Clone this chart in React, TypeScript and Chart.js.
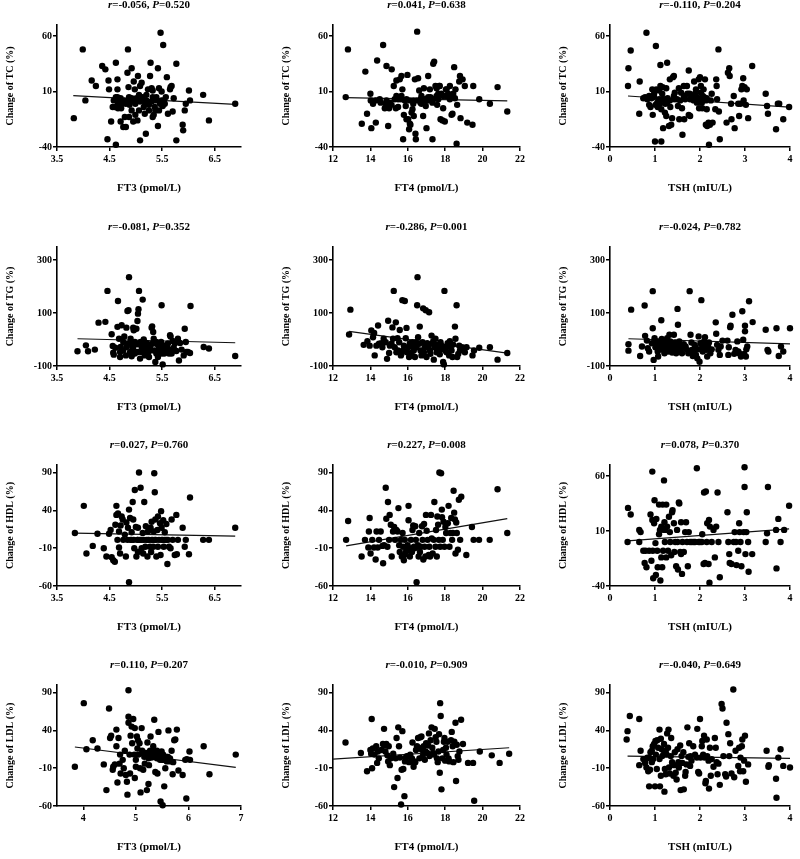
import { useEffect, useRef } from 'react';
import { Chart, registerables } from 'chart.js';
Chart.register(...registerables);

const FONT = "'Liberation Serif', 'Times New Roman', serif";

// ---------- Data (x = thyroid measure, y = % change) ----------
const tcFt3: number[][] = [[3.82,-14],[3.99,48],[4.04,2],[4.16,20],[4.24,15],[4.36,33],[4.42,30],[4.48,20],[4.49,12],[4.46,-33],[4.53,-17],[4.56,-4],[4.62,36],[4.62,-38],[4.65,21],[4.65,12],[4.66,-1],[4.71,-17],[4.76,-22],[4.81,-22],[4.79,-13],[4.84,27],[4.85,48],[4.86,14],[4.87,5],[4.92,31],[4.92,-7],[4.95,-17],[4.96,19],[4.98,12],[5.01,4],[5.03,-16],[5.04,24],[5.06,7],[5.08,-34],[5.08,15],[5.11,18],[5.13,2],[5.15,-4],[5.17,-10],[5.19,-28],[5.2,7],[5.23,12],[5.25,-2],[5.27,24],[5.28,36],[5.3,13],[5.32,5],[5.34,-11],[5.36,-4],[5.39,2],[5.42,-21],[5.42,31],[5.44,13],[5.46,-1],[5.47,63],[5.49,10],[5.52,52],[5.53,2],[5.57,5],[5.59,23],[5.61,-10],[5.65,12],[5.66,14],[5.68,15],[5.7,-8],[5.72,4],[5.77,35],[5.77,-34],[5.89,-20],[5.9,-25],[5.93,-7],[5.95,-1],[6.01,11],[6.03,2],[6.28,7],[6.39,-16],[6.89,-1],[4.65,5],[4.68,2],[4.71,4],[4.73,-1],[4.78,2],[4.81,-1],[4.87,2],[4.88,-2],[4.92,4],[4.95,1],[4.99,-1],[5.04,2],[5.08,1],[5.13,5],[5.18,-1],[5.2,2],[5.3,1],[5.32,11],[5.37,-7],[5.39,5],[5.44,-7],[5.49,2],[5.51,-3],[5.55,-1],[4.66,-5],[4.6,-4],[4.58,2],[4.72,-5],[4.87,-13],[5.06,-7],[5.25,-7],[5.32,-13],[4.99,-11],[4.62,5]];
const tcFt4: number[][] = [[12.68,5],[12.8,48],[13.54,-19],[13.73,28],[13.82,-10],[14,8],[14.05,-23],[14.02,2],[14.14,-1],[14.29,-18],[14.36,38],[14.29,2],[14.68,52],[14.86,33],[14.82,-1],[14.89,-3],[14.95,-21],[15,-5],[15.14,30],[15.25,15],[15.3,3],[15.36,-5],[15.39,20],[15.48,-4],[15.57,21],[15.63,3],[15.66,24],[15.71,12],[15.75,-33],[15.79,-11],[15.84,2],[15.89,-3],[15.93,-15],[15.98,25],[16.02,-15],[16.07,-24],[16.11,-19],[16.14,-20],[16.2,-9],[16.25,-6],[16.29,2],[16.32,-12],[16.38,21],[16.41,-28],[16.46,2],[16.43,-33],[16.5,64],[16.55,22],[16.61,11],[16.68,3],[16.73,-1],[16.82,-12],[16.86,13],[16.91,3],[16.96,-3],[17,-23],[17.09,24],[17.14,2],[17.18,12],[17.21,5],[17.32,-33],[17.36,35],[17.41,37],[17.48,15],[17.54,13],[17.57,-2],[17.63,8],[17.68,15],[17.71,15],[17.75,-15],[17.8,8],[17.86,-16],[17.89,-5],[17.98,-17],[18.04,12],[18.07,6],[18.16,8],[18.25,3],[18.34,-11],[18.39,-10],[18.48,32],[18.52,4],[18.55,12],[18.61,-37],[18.64,-2],[18.75,19],[18.79,24],[18.82,-14],[18.93,21],[19.05,15],[19.18,-18],[19.46,-20],[19.5,15],[19.82,3],[20.39,-1],[20.8,14],[21.32,-8],[14.86,2],[15.04,0],[15.13,-2],[15.48,3],[15.66,6],[15.93,3],[16.11,2],[16.68,0],[17,2],[17.36,3],[17.63,3],[17.89,6],[18.07,12],[18.25,6],[18.43,8],[15.39,6],[14.5,3],[14.55,0],[14.77,-5],[16.29,-1],[16.73,6],[17.09,5],[17.32,0],[18.25,15],[17.54,6]];
const tcTsh: number[][] = [[0.4,15],[0.41,31],[0.46,47],[0.66,19],[0.65,-10],[0.74,4],[0.78,5],[0.81,63],[0.83,3],[0.87,-2],[0.9,-4],[0.92,4],[0.94,12],[0.95,-11],[0.98,8],[1,-35],[1.01,-2],[1.02,51],[1.03,12],[1.05,0],[1.06,-4],[1.09,3],[1.09,11],[1.11,-1],[1.12,34],[1.12,15],[1.14,-6],[1.14,-35],[1.16,8],[1.17,14],[1.18,-23],[1.2,3],[1.22,-9],[1.23,-1],[1.25,13],[1.25,-12],[1.27,36],[1.28,4],[1.31,-21],[1.33,21],[1.33,2],[1.34,-4],[1.36,-20],[1.38,-14],[1.4,23],[1.42,24],[1.43,3],[1.44,9],[1.49,3],[1.51,-3],[1.53,13],[1.54,-15],[1.56,2],[1.58,9],[1.6,-5],[1.61,-29],[1.64,15],[1.65,-15],[1.67,3],[1.71,15],[1.72,8],[1.75,-11],[1.75,29],[1.77,8],[1.78,-12],[1.82,5],[1.86,2],[1.87,19],[1.89,8],[1.91,12],[1.93,0],[1.95,4],[1.97,21],[1.98,-5],[2,23],[2.02,15],[2.02,9],[2.04,3],[2.05,-5],[2.06,6],[2.08,12],[2.09,5],[2.11,21],[2.13,2],[2.15,4],[2.15,-6],[2.13,-20],[2.16,-21],[2.19,-18],[2.2,-38],[2.22,-20],[2.24,2],[2.26,8],[2.28,-18],[2.34,-6],[2.36,21],[2.37,15],[2.38,3],[2.41,48],[2.42,-8],[2.44,-33],[2.59,-18],[2.62,27],[2.65,31],[2.66,24],[2.69,-1],[2.7,-15],[2.75,6],[2.77,-23],[2.85,-1],[2.87,-12],[2.9,-1],[2.92,12],[2.94,15],[2.96,22],[2.97,2],[2.99,14],[3.02,-2],[3.04,12],[3.07,-14],[3.16,33],[3.46,8],[3.49,-3],[3.51,-10],[3.69,-24],[3.73,-1],[3.76,-1],[3.85,-15],[3.98,-4],[0.87,6],[0.98,5],[1.16,3],[1.27,0],[1.42,6],[1.64,6],[1.78,3],[1.93,5],[2.04,0],[2.11,3]];
const tgFt3: number[][] = [[3.89,-44],[4.05,-22],[4.09,-44],[4.22,-38],[4.29,64],[4.42,67],[4.46,184],[4.54,20],[4.56,-24],[4.57,-50],[4.58,-57],[4.61,-31],[4.65,48],[4.66,146],[4.68,3],[4.7,-66],[4.71,-28],[4.73,54],[4.76,-41],[4.78,12],[4.81,-60],[4.82,45],[4.84,108],[4.86,111],[4.86,-15],[4.87,236],[4.89,-47],[4.9,3],[4.92,-63],[4.93,-28],[4.95,45],[4.96,35],[4.98,-9],[5,-47],[5.01,41],[5.03,-18],[5.03,70],[5.04,98],[5.05,115],[5.06,184],[5.08,-72],[5.09,-9],[5.11,-47],[5.13,151],[5.14,-28],[5.15,0],[5.17,-60],[5.19,-18],[5.2,-13],[5.22,-41],[5.23,-53],[5.25,-66],[5.27,-28],[5.28,-18],[5.3,45],[5.31,50],[5.33,29],[5.34,3],[5.36,-41],[5.37,-85],[5.39,-9],[5.41,-18],[5.42,-66],[5.44,-28],[5.46,-41],[5.47,-34],[5.48,-9],[5.49,130],[5.51,-94],[5.52,-22],[5.54,-53],[5.55,-47],[5.57,-28],[5.58,-38],[5.61,-15],[5.63,-53],[5.65,16],[5.66,12],[5.68,-41],[5.7,-5],[5.72,-31],[5.74,-15],[5.77,-43],[5.8,3],[5.82,-79],[5.84,-13],[5.87,-38],[5.91,-60],[5.93,41],[5.95,-9],[5.96,-47],[5.99,-47],[6.03,-51],[6.04,127],[6.29,-28],[6.39,-34],[6.89,-62],[4.92,-15],[4.94,-41],[4.95,-28],[4.98,-53],[5.11,-28],[5.14,-47],[5.2,-34],[5.3,-41],[5.33,-15],[5.39,-53],[5.42,-41],[5.49,-53],[5.58,-22],[5.61,-34],[4.82,-28],[4.76,-9],[4.7,-47],[5.04,-47],[5.23,-28],[5.68,-53]];
const tgFt4: number[][] = [[12.86,19],[12.93,113],[13.64,-20],[13.84,-6],[13.96,-23],[14.05,34],[14.14,9],[14.2,25],[14.23,-60],[14.32,-23],[14.41,53],[14.46,-16],[14.59,-14],[14.64,-29],[14.71,3],[14.82,-10],[14.89,-73],[14.95,71],[15,-51],[15.04,-23],[15.13,-16],[15.18,46],[15.21,3],[15.25,184],[15.3,-29],[15.36,65],[15.39,-48],[15.45,5],[15.48,-41],[15.54,-10],[15.57,36],[15.63,-60],[15.66,-54],[15.71,149],[15.75,-41],[15.79,-23],[15.84,146],[15.89,5],[15.93,44],[15.96,-48],[16.02,-29],[16.07,-66],[16.11,-14],[16.14,-16],[16.2,-51],[16.25,-10],[16.29,-29],[16.32,-41],[16.38,-66],[16.43,-10],[16.46,-29],[16.5,130],[16.52,236],[16.55,9],[16.61,-16],[16.64,49],[16.68,-41],[16.73,-60],[16.79,-10],[16.82,118],[16.86,-48],[16.91,-29],[16.96,111],[17,-66],[17.04,-14],[17.09,-29],[17.14,103],[17.18,-41],[17.21,-54],[17.27,15],[17.32,-16],[17.36,-6],[17.39,-76],[17.43,-29],[17.48,3],[17.54,-48],[17.57,-19],[17.63,-29],[17.68,-41],[17.71,-56],[17.75,-10],[17.8,-23],[17.86,-35],[17.89,-85],[17.93,-94],[17.96,184],[18,-41],[18.04,-29],[18.07,-48],[18.13,-14],[18.16,-23],[18.21,-60],[18.25,-6],[18.29,-29],[18.34,-41],[18.39,-66],[18.43,-19],[18.52,49],[18.55,3],[18.61,130],[18.64,-66],[18.7,-54],[18.75,-23],[18.79,-41],[18.88,-29],[18.96,-31],[19.05,-48],[19.14,-29],[19.46,-60],[19.54,-41],[19.82,-31],[20.39,-29],[20.8,-76],[21.32,-51]];
const tgTsh: number[][] = [[0.41,-18],[0.41,-42],[0.47,113],[0.67,-62],[0.71,-26],[0.77,129],[0.78,14],[0.82,-4],[0.84,-33],[0.87,-45],[0.93,-14],[0.95,43],[0.95,183],[0.97,-77],[0.99,5],[1.01,-29],[1.03,-7],[1.04,-24],[1.06,-45],[1.07,-64],[1.08,-7],[1.09,-37],[1.12,-20],[1.14,73],[1.15,2],[1.17,-39],[1.19,-11],[1.21,-52],[1.23,-33],[1.24,-16],[1.27,5],[1.29,-45],[1.3,-26],[1.32,18],[1.34,-7],[1.36,-37],[1.38,-49],[1.39,-20],[1.42,18],[1.44,-29],[1.45,-11],[1.47,-52],[1.49,-39],[1.5,116],[1.51,56],[1.53,-20],[1.54,-7],[1.56,-45],[1.59,-33],[1.6,-52],[1.64,-18],[1.68,-26],[1.71,-39],[1.74,-52],[1.77,183],[1.79,18],[1.81,-11],[1.82,-39],[1.84,-62],[1.86,-45],[1.88,-20],[1.9,-29],[1.91,-58],[1.94,-71],[1.96,-37],[1.97,12],[1.99,-84],[2.01,-14],[2.03,149],[2.05,-29],[2.06,-45],[2.09,-7],[2.11,9],[2.12,-24],[2.14,-39],[2.16,-64],[2.18,-26],[2.2,-11],[2.23,-52],[2.26,-37],[2.35,65],[2.36,22],[2.38,-20],[2.41,-39],[2.44,-58],[2.46,-26],[2.5,-4],[2.61,-4],[2.63,-58],[2.64,-29],[2.67,47],[2.68,52],[2.72,94],[2.76,-54],[2.79,-39],[2.83,-7],[2.85,-45],[2.87,-52],[2.91,-64],[2.94,107],[2.96,-1],[2.98,-54],[3,31],[3,52],[3.02,-64],[3.03,-37],[3.05,-26],[3.09,145],[3.17,66],[3.46,37],[3.5,-39],[3.52,-45],[3.7,43],[3.75,-62],[3.8,-26],[3.85,-45],[4,43]];
const hdlFt3: number[][] = [[3.84,10],[4.01,46],[4.06,-17],[4.18,-7],[4.27,9],[4.39,-10],[4.44,-21],[4.49,9],[4.52,14],[4.54,-22],[4.57,-26],[4.6,-28],[4.61,21],[4.63,46],[4.63,34],[4.65,1],[4.66,36],[4.68,12],[4.68,-9],[4.7,-17],[4.71,20],[4.73,32],[4.75,28],[4.76,1],[4.79,8],[4.81,-21],[4.82,24],[4.84,1],[4.85,17],[4.87,41],[4.87,-55],[4.89,30],[4.9,1],[4.92,11],[4.94,51],[4.95,28],[4.96,1],[4.97,-10],[4.98,67],[5,18],[5.01,-21],[5.03,1],[5.04,-15],[5.04,17],[5.06,90],[5.08,1],[5.09,70],[5.11,-10],[5.13,10],[5.14,-17],[5.15,1],[5.16,51],[5.18,-8],[5.19,19],[5.2,1],[5.22,-21],[5.23,12],[5.25,1],[5.27,-8],[5.28,17],[5.29,-15],[5.3,25],[5.32,1],[5.33,-8],[5.34,12],[5.35,89],[5.36,64],[5.37,28],[5.38,1],[5.39,-21],[5.41,14],[5.42,-8],[5.42,32],[5.44,1],[5.46,23],[5.47,-19],[5.48,39],[5.49,17],[5.51,1],[5.52,27],[5.53,-8],[5.55,11],[5.58,22],[5.6,-31],[5.61,1],[5.63,-8],[5.66,-10],[5.68,28],[5.7,1],[5.74,-19],[5.77,34],[5.78,-18],[5.8,1],[5.89,17],[5.93,-8],[5.95,1],[6.01,-18],[6.03,57],[6.28,1],[6.39,1],[6.89,17],[4.92,1],[5.04,1],[5.11,1],[5.23,1],[5.3,1],[5.36,1],[5.49,1],[5.55,1],[5.58,1]];
const hdlFt4: number[][] = [[12.7,1],[12.81,26],[13.53,-21],[13.71,1],[13.89,-9],[13.92,12],[13.96,30],[14.01,-17],[14.1,1],[14.19,-9],[14.28,-25],[14.33,12],[14.39,-9],[14.46,1],[14.55,12],[14.64,-7],[14.68,-30],[14.73,-6],[14.82,70],[14.85,29],[14.91,-8],[14.94,51],[15,1],[15.03,34],[15.09,21],[15.14,-21],[15.21,12],[15.27,18],[15.32,1],[15.39,14],[15.45,12],[15.5,43],[15.54,-6],[15.57,-15],[15.63,1],[15.68,-21],[15.72,10],[15.75,-8],[15.79,-26],[15.81,-19],[15.84,1],[15.9,-15],[15.93,-9],[15.99,-6],[16.04,46],[16.04,27],[16.08,-10],[16.11,-21],[16.17,1],[16.22,-15],[16.25,14],[16.29,20],[16.33,-8],[16.36,-10],[16.4,19],[16.43,1],[16.47,-55],[16.51,-8],[16.54,-6],[16.58,-21],[16.61,10],[16.65,-15],[16.7,-8],[16.76,19],[16.79,1],[16.83,-25],[16.87,22],[16.9,-8],[16.94,-21],[16.97,34],[17.01,13],[17.06,1],[17.12,-19],[17.15,-8],[17.19,-21],[17.24,34],[17.28,3],[17.33,-17],[17.39,1],[17.42,51],[17.48,-8],[17.51,14],[17.55,-21],[17.58,32],[17.62,21],[17.66,1],[17.69,90],[17.73,-8],[17.78,89],[17.82,41],[17.83,31],[17.87,1],[17.91,25],[17.96,-8],[18.01,18],[18.05,10],[18.14,23],[18.18,46],[18.23,-8],[18.28,10],[18.32,30],[18.37,1],[18.41,10],[18.45,66],[18.48,37],[18.52,28],[18.55,-17],[18.59,24],[18.62,10],[18.68,-12],[18.73,54],[18.8,1],[18.86,58],[19.13,-19],[19.43,18],[19.52,1],[19.81,1],[20.38,1],[20.8,68],[21.32,10]];
const hdlTsh: number[][] = [[0.39,0],[0.4,31],[0.46,25],[0.65,11],[0.68,9],[0.65,0],[0.74,-8],[0.77,-19],[0.79,-8],[0.81,-23],[0.87,-8],[0.9,25],[0.92,-17],[0.94,64],[0.94,20],[0.95,-8],[0.96,-33],[0.98,17],[0.99,38],[1.01,-1],[1.02,-30],[1.03,21],[1.05,-8],[1.06,-23],[1.09,7],[1.09,34],[1.11,11],[1.12,-35],[1.14,-14],[1.14,14],[1.16,-23],[1.17,34],[1.18,-8],[1.2,11],[1.2,56],[1.21,18],[1.22,0],[1.23,11],[1.25,34],[1.25,-14],[1.27,14],[1.29,-8],[1.31,23],[1.33,9],[1.34,0],[1.36,-12],[1.38,27],[1.39,29],[1.42,17],[1.43,-9],[1.45,0],[1.47,-22],[1.49,11],[1.5,0],[1.51,-25],[1.53,36],[1.54,35],[1.56,-9],[1.58,18],[1.58,-11],[1.6,-29],[1.61,0],[1.64,-9],[1.67,9],[1.69,18],[1.71,0],[1.73,-22],[1.75,9],[1.78,0],[1.82,0],[1.86,0],[1.89,0],[1.93,67],[1.97,0],[2,0],[2.04,0],[2.05,7],[2.08,-20],[2.09,45],[2.11,-19],[2.13,46],[2.15,0],[2.16,17],[2.19,-20],[2.2,20],[2.21,-37],[2.22,14],[2.26,0],[2.3,11],[2.33,-14],[2.36,14],[2.39,45],[2.41,0],[2.44,-32],[2.61,27],[2.63,0],[2.65,-11],[2.66,-19],[2.7,-20],[2.75,0],[2.77,9],[2.8,0],[2.81,-21],[2.85,-8],[2.87,17],[2.88,9],[2.9,0],[2.92,-22],[2.97,9],[2.99,68],[2.99,50],[3.01,-11],[3.03,9],[3.04,27],[3.07,0],[3.08,-27],[3.16,-11],[3.46,0],[3.49,8],[3.51,50],[3.69,11],[3.7,-24],[3.74,21],[3.79,0],[3.87,11],[3.98,33]];
const ldlFt3: number[][] = [[3.84,-8],[4.01,76],[4.06,15],[4.18,27],[4.27,16],[4.39,-5],[4.44,-39],[4.49,69],[4.51,30],[4.53,33],[4.56,-12],[4.57,-8],[4.6,-5],[4.63,41],[4.63,19],[4.65,-29],[4.67,30],[4.69,-4],[4.7,8],[4.71,-17],[4.75,1],[4.77,-10],[4.79,13],[4.81,-19],[4.83,-28],[4.84,-45],[4.86,50],[4.86,58],[4.86,93],[4.88,8],[4.89,-17],[4.9,33],[4.92,45],[4.93,23],[4.95,55],[4.97,8],[4.98,-23],[4.98,43],[5,1],[5,-8],[5.02,32],[5.03,16],[5.04,27],[5.05,8],[5.07,23],[5.08,-10],[5.09,-42],[5.11,43],[5.12,13],[5.14,-12],[5.16,5],[5.17,-4],[5.19,10],[5.21,-39],[5.22,24],[5.24,-31],[5.25,-6],[5.27,13],[5.28,32],[5.3,4],[5.32,8],[5.33,19],[5.35,54],[5.37,-15],[5.38,5],[5.4,13],[5.41,-17],[5.42,10],[5.43,38],[5.45,3],[5.46,8],[5.47,-54],[5.49,12],[5.5,1],[5.51,-59],[5.52,8],[5.54,-34],[5.56,-10],[5.59,-1],[5.61,5],[5.62,40],[5.65,3],[5.66,-1],[5.68,13],[5.7,-18],[5.71,-2],[5.73,27],[5.75,28],[5.78,41],[5.81,-13],[5.89,-19],[5.94,1],[5.96,-50],[5.97,2],[6.02,12],[6.03,1],[6.29,19],[6.4,-18],[6.9,8],[5.21,8],[5.3,12],[5.37,10],[5.4,3],[5.46,1],[5.52,1],[5.59,5],[5.24,3],[5.14,10],[5.33,5]];
const ldlFt4: number[][] = [[12.67,24],[13.49,10],[13.82,-14],[14,14],[14.04,9],[14.07,55],[14.09,-10],[14.13,16],[14.22,8],[14.31,19],[14.36,-3],[14.4,12],[14.45,3],[14.58,14],[14.67,22],[14.73,42],[14.76,20],[14.8,12],[14.85,22],[14.91,7],[14.95,-1],[14.98,19],[15.04,-6],[15.09,3],[15.22,9],[15.27,-35],[15.35,3],[15.4,30],[15.45,-23],[15.49,44],[15.53,19],[15.58,4],[15.64,-58],[15.67,-12],[15.71,39],[15.76,-11],[15.82,-47],[15.85,-1],[15.89,4],[15.95,6],[16.04,6],[16.07,-2],[16.13,8],[16.18,-1],[16.22,3],[16.25,24],[16.31,-8],[16.36,-1],[16.4,-2],[16.44,14],[16.49,19],[16.55,30],[16.58,17],[16.62,3],[16.67,31],[16.73,32],[16.76,14],[16.8,6],[16.85,19],[16.91,1],[16.95,12],[16.98,23],[17.04,10],[17.09,20],[17.13,36],[17.16,6],[17.22,27],[17.27,44],[17.31,17],[17.35,10],[17.4,8],[17.44,42],[17.49,31],[17.53,25],[17.56,3],[17.6,-2],[17.64,12],[17.67,35],[17.71,-16],[17.73,76],[17.76,59],[17.8,-38],[17.85,3],[17.89,14],[17.93,25],[17.96,30],[18,0],[18.04,17],[18.07,8],[18.13,25],[18.18,3],[18.22,-1],[18.31,27],[18.35,38],[18.4,19],[18.44,-2],[18.49,25],[18.55,50],[18.58,-27],[18.62,21],[18.67,6],[18.71,1],[18.76,12],[18.85,54],[18.95,22],[19.22,-3],[19.49,-3],[19.55,-53],[19.85,12],[20.49,7],[20.91,-3],[21.42,9]];
const ldlTsh: number[][] = [[0.37,28],[0.39,39],[0.44,59],[0.65,55],[0.68,13],[0.65,-6],[0.74,2],[0.78,-3],[0.8,2],[0.81,-9],[0.83,4],[0.85,-14],[0.87,4],[0.87,-34],[0.89,-12],[0.9,11],[0.93,13],[0.93,-2],[0.95,19],[0.96,2],[0.98,22],[1,-34],[1.01,26],[1.02,8],[1.04,-11],[1.05,27],[1.07,17],[1.1,41],[1.1,2],[1.11,-34],[1.13,-20],[1.13,29],[1.15,15],[1.16,6],[1.19,8],[1.2,22],[1.21,-41],[1.22,-11],[1.24,-18],[1.24,13],[1.26,8],[1.27,36],[1.29,17],[1.3,41],[1.31,-9],[1.33,-17],[1.35,6],[1.36,30],[1.38,-2],[1.39,-5],[1.41,-20],[1.42,-6],[1.44,11],[1.46,-16],[1.48,-25],[1.5,15],[1.52,-2],[1.53,-9],[1.56,20],[1.57,-39],[1.59,6],[1.61,-3],[1.63,11],[1.64,-38],[1.67,-20],[1.68,-15],[1.7,-5],[1.72,44],[1.74,5],[1.76,23],[1.78,-7],[1.79,6],[1.81,0],[1.85,19],[1.89,8],[1.93,4],[1.94,42],[1.96,-15],[1.98,-17],[2,55],[2.01,4],[2.04,19],[2.05,26],[2.07,8],[2.09,33],[2.1,4],[2.12,-30],[2.13,-27],[2.15,28],[2.16,6],[2.19,0],[2.2,-37],[2.22,17],[2.24,-20],[2.26,2],[2.3,-8],[2.33,30],[2.35,17],[2.37,-2],[2.39,-18],[2.41,-4],[2.44,-32],[2.48,75],[2.5,69],[2.52,6],[2.56,-18],[2.58,-21],[2.59,50],[2.63,35],[2.65,6],[2.67,23],[2.7,-17],[2.74,94],[2.76,-22],[2.79,13],[2.85,-7],[2.87,17],[2.89,-14],[2.9,4],[2.93,19],[2.94,28],[2.96,-14],[2.98,0],[3,33],[3.02,-28],[3.07,-5],[3.48,13],[3.52,-8],[3.53,-6],[3.69,-24],[3.7,-49],[3.74,4],[3.79,15],[3.85,-7],[4,-9]];

// Regression line end points [x0, y0, x1, y1], row by row
const fitLines: number[][] = [
  [3.81, 6.4, 6.89, -1.5], [12.68, 4.5, 21.32, 1.5], [0.4, 6, 3.98, -4],
  [3.89, 3, 6.89, -12], [12.86, 31, 21.32, -51], [0.41, 3, 4.0, -16],
  [3.84, 10, 6.89, 6], [12.7, -7, 21.32, 29], [0.39, 1, 3.98, 12],
  [3.84, 18, 6.9, -9], [12.0, 2, 21.42, 17], [0.39, 6, 4.0, 3],
];
const rValues = ['-0.056', '0.041', '-0.110', '-0.081', '-0.286', '-0.024', '0.027', '0.227', '0.078', '0.110', '-0.010', '-0.040'];
const pValues = ['0.520', '0.638', '0.204', '0.352', '0.001', '0.782', '0.760', '0.008', '0.370', '0.207', '0.909', '0.649'];
const yTitles = ['Change of TC (%)', 'Change of TG (%)', 'Change of HDL (%)', 'Change of LDL (%)'];
const xTitles = ['FT3 (pmol/L)', 'FT4 (pmol/L)', 'TSH (mIU/L)'];
const xTicksFt3 = [3.5, 4.5, 5.5, 6.5];
const xTicksFt3Int = [4, 5, 6, 7];
const xTicksFt4 = [12, 14, 16, 18, 20, 22];
const xTicksTsh = [0, 1, 2, 3, 4];
const yTicksTc = [-40, 10, 60];
const yTicksTg = [-100, 100, 300];
const yTicksLip = [-60, -10, 40, 90];
const xRanges = [[3.5, 7], [12, 22], [0, 4]];

const panelPoints = [tcFt3, tcFt4, tcTsh, tgFt3, tgFt4, tgTsh, hdlFt3, hdlFt4, hdlTsh, ldlFt3, ldlFt4, ldlTsh];
const panelXTicks = [xTicksFt3, xTicksFt4, xTicksTsh, xTicksFt3, xTicksFt4, xTicksTsh, xTicksFt3, xTicksFt4, xTicksTsh, xTicksFt3Int, xTicksFt4, xTicksTsh];
const panelYTicks = [yTicksTc, yTicksTc, yTicksTc, yTicksTg, yTicksTg, yTicksTg, yTicksLip, yTicksLip, yTicksTc, yTicksLip, yTicksLip, yTicksLip];
const panelYRange = [[-40, 70], [-40, 70], [-40, 70], [-100, 350], [-100, 350], [-100, 350], [-60, 100], [-60, 100], [-40, 70], [-60, 100], [-60, 100], [-60, 100]];

// ---------- Layout ----------
const COL_L = [57, 333, 610];
const COL_R = [241, 520, 790];
const ROW_T = [25, 247, 465, 685];
const ROW_B = [147, 366, 586, 806];
const Y_AXIS_W = 57;
const X_AXIS_H = 48;
const PAD_TOP = 26;
const PAD_RIGHT = 10;

const titlePlugin = {
  id: 'rpTitle',
  afterDraw(chart: any, _args: any, opts: any) {
    const { ctx, chartArea } = chart;
    const segs = [
      { t: 'r', it: true },
      { t: '=' + opts.r + ', ', it: false },
      { t: 'P', it: true },
      { t: '=' + opts.p, it: false },
    ];
    const fontFor = (it: boolean) => `${it ? 'italic ' : ''}bold 11px ${FONT}`;
    ctx.save();
    let total = 0;
    segs.forEach((s) => { ctx.font = fontFor(s.it); total += ctx.measureText(s.t).width; });
    let x = (chartArea.left + chartArea.right) / 2 - total / 2;
    const y = chartArea.top - 20;
    ctx.textBaseline = 'middle';
    ctx.textAlign = 'left';
    ctx.fillStyle = '#000';
    segs.forEach((s) => { ctx.font = fontFor(s.it); ctx.fillText(s.t, x, y); x += ctx.measureText(s.t).width; });
    ctx.restore();
  },
};

function Panel({ idx }: { idx: number }) {
  const ref = useRef<HTMLCanvasElement>(null);
  const row = Math.floor(idx / 3);
  const col = idx % 3;
  const w = COL_R[col] - COL_L[col] + Y_AXIS_W + PAD_RIGHT;
  const h = ROW_B[row] - ROW_T[row] + PAD_TOP + X_AXIS_H;

  useEffect(() => {
    const pts = panelPoints[idx].map((p) => ({ x: p[0], y: p[1] }));
    const f = fitLines[idx];
    const xt = panelXTicks[idx];
    const yt = panelYTicks[idx];
    const tickFont = { family: FONT, size: 10, weight: 'bold' as const };
    const chart = new Chart(ref.current as HTMLCanvasElement, {
      type: 'scatter',
      data: {
        datasets: [
          {
            data: pts,
            pointRadius: 3.2,
            pointBackgroundColor: '#000',
            pointBorderWidth: 0,
            backgroundColor: '#000',
            borderColor: '#000',
            clip: false as any,
          },
          {
            data: [{ x: f[0], y: f[1] }, { x: f[2], y: f[3] }],
            showLine: true,
            borderColor: '#111',
            borderWidth: 1.2,
            pointRadius: 0,
          } as any,
        ],
      },
      plugins: [titlePlugin as any],
      options: {
        responsive: false,
        animation: false,
        events: [],
        layout: { padding: { top: PAD_TOP, right: PAD_RIGHT, left: 0, bottom: 0 } },
        plugins: {
          legend: { display: false },
          tooltip: { enabled: false },
          rpTitle: { r: rValues[idx], p: pValues[idx] },
        } as any,
        scales: {
          x: {
            type: 'linear',
            min: xRanges[col][0],
            max: xRanges[col][1],
            afterBuildTicks: (s: any) => { s.ticks = xt.map((v) => ({ value: v })); },
            afterFit: (s: any) => { s.height = X_AXIS_H; },
            ticks: {
              autoSkip: false,
              maxRotation: 0,
              padding: 2,
              color: '#000',
              font: tickFont,
              callback: (v: any) => String(v),
            },
            grid: { drawOnChartArea: false, drawTicks: true, tickLength: 4, color: '#000', lineWidth: 1.5 },
            border: { display: true, color: '#000', width: 1.6 },
            title: {
              display: true,
              text: xTitles[col],
              color: '#000',
              font: { family: FONT, size: 11, weight: 'bold' },
              padding: { top: 0, bottom: 0 },
            },
          },
          y: {
            type: 'linear',
            min: panelYRange[idx][0],
            max: panelYRange[idx][1],
            afterBuildTicks: (s: any) => { s.ticks = yt.map((v) => ({ value: v })); },
            afterFit: (s: any) => { s.width = Y_AXIS_W; },
            ticks: {
              padding: 1,
              color: '#000',
              font: tickFont,
              callback: (v: any) => String(v),
            },
            grid: { drawOnChartArea: false, drawTicks: true, tickLength: 4, color: '#000', lineWidth: 1.5 },
            border: { display: true, color: '#000', width: 1.6 },
            title: {
              display: true,
              text: yTitles[row],
              color: '#000',
              font: { family: FONT, size: 10, weight: 'bold' },
              padding: { top: 4, bottom: 0 },
            },
          },
        },
      },
    });
    return () => chart.destroy();
  }, [idx]);

  return (
    <canvas
      ref={ref}
      width={w}
      height={h}
      style={{
        position: 'absolute',
        left: COL_L[col] - Y_AXIS_W,
        top: ROW_T[row] - PAD_TOP,
        width: w,
        height: h,
      }}
    />
  );
}

export default function App() {
  return (
    <div style={{ position: 'absolute', left: 0, top: 0, width: 800, height: 859, background: '#fff', overflow: 'hidden' }}>
      {panelPoints.map((_, i) => (
        <Panel key={i} idx={i} />
      ))}
    </div>
  );
}
